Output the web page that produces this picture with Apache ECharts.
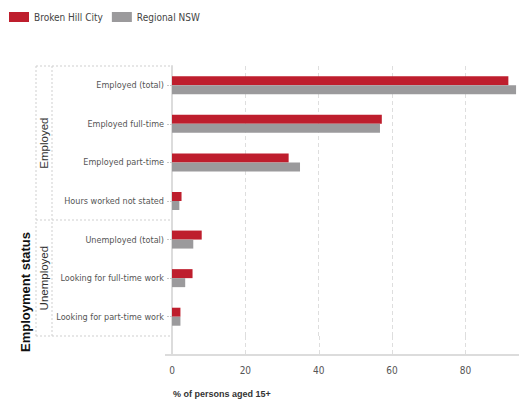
<!DOCTYPE html>
<html>
<head>
<meta charset="utf-8">
<script src="https://cdn.jsdelivr.net/npm/echarts@6/dist/echarts.min.js"></script>
<style>
  html, body { margin: 0; padding: 0; background: #fff; }
  #chart { width: 519px; height: 403px; }
</style>
</head>
<body>
<div id="chart"></div>
<script>
// Employment status, % of persons aged 15+
const categories = [
  'Employed (total)',
  'Employed full-time',
  'Employed part-time',
  'Hours worked not stated',
  'Unemployed (total)',
  'Looking for full-time work',
  'Looking for part-time work'
];
const brokenHill = [91.7, 57.2, 31.8, 2.6, 8.1, 5.6, 2.3];
const regionalNSW = [93.8, 56.7, 34.9, 2.0, 5.8, 3.6, 2.3];
const xTicks = [0, 20, 40, 60, 80];
// group headings and how many categories each spans
const groups = [
  { name: 'Employed', count: 4 },
  { name: 'Unemployed', count: 3 }
];

const CONDENSED = "'DejaVu Sans Condensed', 'Liberation Sans', sans-serif";
const REGULAR = "'Liberation Sans', Arial, sans-serif";
const RED = '#be1e2d';
const GREY = '#9b9a9c';
const GRID_LEFT = 172, GRID_TOP = 66, GRID_BOTTOM = 67;
const AXIS_OFFSET = 19;   // value axis sits a little below the last category band

const chart = echarts.init(document.getElementById('chart'), null, { renderer: 'svg' });

const option = {
  animation: false,
  backgroundColor: '#fff',
  legend: {
    left: 9, top: 12,
    itemWidth: 20, itemHeight: 10, itemGap: 9, padding: 0,
    icon: 'rect',
    textStyle: { fontFamily: CONDENSED, fontSize: 10, color: '#444' },
    data: ['Broken Hill City', 'Regional NSW']
  },
  grid: {
    left: GRID_LEFT, top: GRID_TOP, right: 0, bottom: GRID_BOTTOM,
    containLabel: false, outerBoundsMode: 'none'
  },
  xAxis: {
    type: 'value', min: 0, max: 94.6, interval: 20, offset: AXIS_OFFSET,
    axisLine: { show: true, lineStyle: { color: '#dcdcdc', width: 2 } },
    axisTick: { show: false },
    axisLabel: {
      showMaxLabel: false, margin: 10,
      fontFamily: CONDENSED, fontSize: 10, color: '#555',
      formatter: v => (xTicks.indexOf(v) >= 0 ? String(v) : '')
    },
    splitLine: { show: true, lineStyle: { color: '#dedede', type: [4, 3] } },
    name: '% of persons aged 15+',
    nameLocation: 'start',
    nameGap: 0,
    nameTextStyle: {
      fontFamily: REGULAR, fontSize: 9, fontWeight: 'bold', color: '#333',
      align: 'left', verticalAlign: 'top', padding: [34, 0, 0, 1]
    }
  },
  yAxis: {
    type: 'category', inverse: true, data: categories,
    axisLine: { show: true, lineStyle: { color: '#dcdcdc', width: 2 } },
    axisTick: { show: true, alignWithLabel: true, length: 6, lineStyle: { color: '#c8c8c8', type: [2, 1] } },
    axisLabel: { margin: 8, fontFamily: CONDENSED, fontSize: 9, color: '#555' },
    splitLine: { show: false }
  },
  series: [
    {
      name: 'Broken Hill City', type: 'bar', data: brokenHill,
      barWidth: 9, barGap: '0%', itemStyle: { color: RED }
    },
    {
      name: 'Regional NSW', type: 'bar', data: regionalNSW,
      barWidth: 9, barGap: '0%', itemStyle: { color: GREY }
    }
  ]
};
chart.setOption(option);

// Group boxes and headings to the left of the category labels
const yPix = i => chart.convertToPixel({ yAxisIndex: 0 }, i);
const xPix = v => chart.convertToPixel({ xAxisIndex: 0 }, v);
const band = yPix(1) - yPix(0);
const boxLeft = 36, innerX = 52;
const dotted = { stroke: '#cfcfcf', lineWidth: 1, lineDash: [2, 2] };
const elems = [];
const line = (x1, y1, x2, y2, style) => elems.push({ type: 'line', shape: { x1, y1, x2, y2 }, style, silent: true });

let groupStart = 0;
const boxTop = Math.round(yPix(0) - band / 2);
line(boxLeft, boxTop, GRID_LEFT, boxTop, dotted);
groups.forEach(g => {
  const y1 = yPix(groupStart) - band / 2;
  const y2 = yPix(groupStart + g.count - 1) + band / 2;
  line(boxLeft, Math.round(y2), GRID_LEFT, Math.round(y2), dotted);
  elems.push({
    type: 'text', x: 44, y: (y1 + y2) / 2, rotation: Math.PI / 2,
    style: { text: g.name, fontFamily: REGULAR, fontSize: 11.5, fill: '#333', align: 'center', verticalAlign: 'middle' },
    silent: true
  });
  groupStart += g.count;
});
const boxBottom = Math.round(yPix(categories.length - 1) + band / 2);
line(boxLeft, boxTop, boxLeft, boxBottom, dotted);
line(innerX, boxTop, innerX, boxBottom, dotted);

// carry the vertical axis and the grid lines down to the offset value axis
const axisY = boxBottom + AXIS_OFFSET;
const axisStyle = { stroke: '#dcdcdc', lineWidth: 2 };
line(GRID_LEFT, boxBottom, GRID_LEFT, axisY, axisStyle);
line(165, axisY, GRID_LEFT, axisY, axisStyle);
xTicks.slice(1).forEach(v => {
  const x = Math.round(xPix(v)) + 0.5;
  line(x, boxBottom, x, axisY - 1, { stroke: '#dedede', lineWidth: 1, lineDash: [4, 3] });
});

elems.push({
  type: 'text', x: 25, y: 292, rotation: Math.PI / 2,
  style: { text: 'Employment status', fontFamily: REGULAR, fontSize: 13, fontWeight: 'bold', fill: '#111', align: 'center', verticalAlign: 'middle' },
  silent: true
});

chart.setOption({ graphic: { elements: elems } });
</script>
</body>
</html>
